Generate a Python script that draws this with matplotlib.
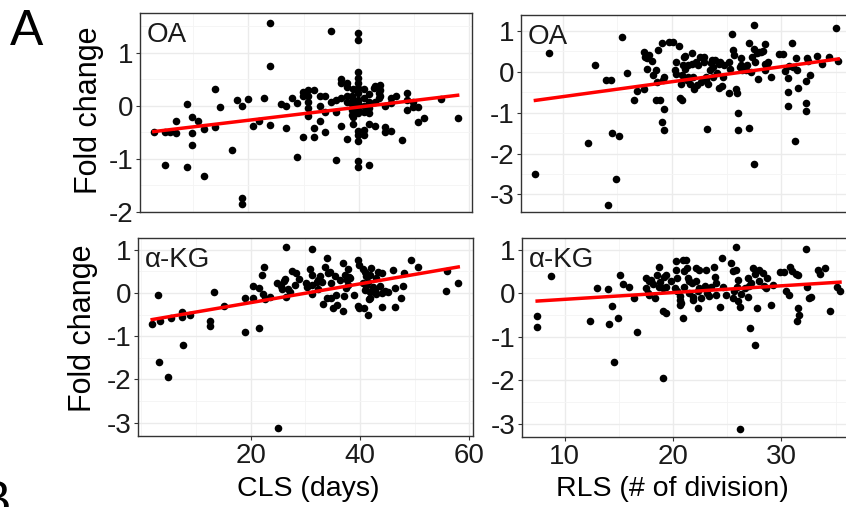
import numpy as np
import matplotlib
matplotlib.use("Agg")
import matplotlib.pyplot as plt
from matplotlib.ticker import MultipleLocator, FixedLocator

plt.rcParams['font.family'] = ['Liberation Sans', 'DejaVu Sans']
plt.rcParams['axes.unicode_minus'] = False

# ── data: (x, fold change) ──────────────────────────────────────
oa_cls = np.array([
    (2.9,-0.50),(5.0,-1.11),(5.0,-0.50),(5.9,-0.50),(7.0,-0.51),(7.0,-0.28),(8.9,0.04),(8.9,-1.16),
    (9.9,-0.21),(9.9,-0.52),(9.9,-0.73),(10.9,-0.29),(11.9,-0.43),(11.9,-1.33),(13.9,0.32),(13.9,-0.39),
    (14.9,-0.03),(17.0,-0.84),(17.9,0.11),(18.9,0.0),(18.9,-1.74),(18.9,-1.84),(19.9,0.13),(20.9,-0.38),
    (21.9,-0.28),(22.9,0.14),(23.9,1.57),(23.9,0.75),(23.9,-0.36),(25.9,0.03),(26.9,0.0),(26.9,-0.42),
    (27.9,0.15),(28.9,0.06),(28.9,-0.97),(29.9,0.26),(29.9,0.18),(29.9,-0.58),(30.9,0.29),(30.9,0.18),
    (30.9,0.08),(30.9,-0.04),(30.9,-0.19),(31.9,0.29),(31.9,-0.41),(31.9,-0.59),(32.9,0.18),(32.9,0.0),
    (32.9,-0.28),(33.9,0.18),(33.9,-0.11),(33.9,-0.50),(34.9,1.42),(34.9,0.08),(35.9,0.11),(35.9,-0.11),
    (35.9,-1.02),(36.8,0.50),(36.8,0.43),(36.8,0.14),(36.8,-0.38),(37.9,0.44),(37.9,0.18),(37.9,0.08),
    (37.9,-0.62),(38.9,0.31),(38.9,0.11),(38.9,-0.04),(38.9,-0.21),(38.9,-0.34),(39.9,1.37),(39.9,1.25),
    (39.9,0.63),(39.9,0.52),(39.9,0.43),(39.9,0.24),(39.9,0.05),(39.9,-0.08),(39.9,-0.14),(39.9,-0.47),
    (39.9,-0.66),(39.9,-1.04),(39.9,-1.16),(40.9,0.31),(40.9,-0.01),(40.9,-0.45),(40.9,-0.55),(41.9,0.23),
    (41.9,-0.04),(41.9,-0.34),(41.9,-1.12),(42.9,0.38),(42.9,0.08),(42.9,-0.38),(43.9,0.40),(43.9,0.30),
    (43.9,0.18),(44.8,-0.01),(44.8,-0.39),(44.8,-0.50),(45.9,0.14),(45.9,0.05),(45.9,-0.47),(46.8,0.19),
    (47.9,-0.65),(48.8,0.25),(48.8,-0.08),(49.9,0.08),(49.9,-0.03),(50.8,-0.03),(50.8,-0.31),(51.9,-0.23),
    (54.8,0.13),(57.9,-0.23),(37.9,0.36),(38.8,0.18),(38.8,0.03),(38.8,-0.08),(38.8,-0.17),(39.9,0.33),
    (39.9,0.11),(39.9,-0.55),(40.9,0.14),(40.9,-0.11),(41.8,0.08),(41.8,-0.14),(42.7,0.33),(43.6,0.24),
    (43.6,0.14),(48.8,0.11),
])

oa_rls = np.array([
    (7.47,-2.50),(8.69,0.45),(12.3,-1.73),(12.96,0.16),(13.97,-0.20),(14.4,-0.20),(14.1,-3.27),
    (14.5,-1.50),(14.9,-2.62),(15.16,-1.58),(15.4,0.86),(15.9,-0.02),(16.5,-0.70),(16.75,-0.48),
    (17.4,-0.41),(17.45,0.49),(17.5,0.37),(17.9,0.41),(17.75,0.08),(18.15,0.27),(18.3,-0.08),(18.5,-0.70),
    (18.55,0.04),(18.7,0.53),(18.86,-0.70),(18.6,-0.25),(19.07,0.70),(19.07,-1.23),(19.2,-0.20),
    (19.3,-0.90),(19.3,-1.42),(19.3,-0.12),(19.7,0.74),(20.1,0.74),(20.3,0.04),(20.35,0.25),(20.4,-0.06),
    (20.6,0.63),(20.7,-0.63),(20.9,-0.68),(20.8,-0.29),(20.9,-0.08),(21.05,0.16),(21.1,0.37),(21.35,-0.20),
    (21.45,0.16),(21.65,-0.29),(21.8,0.45),(21.9,-0.12),(22.06,-0.41),(22.2,0.25),(22.3,-0.33),(22.4,0.16),
    (22.7,-0.25),(22.9,0.37),(22.98,0.25),(23.2,-1.39),(23.3,-0.29),(23.5,0.04),(23.6,0.22),(23.8,-0.12),
    (23.95,0.29),(24.1,-0.04),(24.35,-0.39),(24.4,0.25),(24.6,-0.35),(24.8,0.16),(25.2,-0.53),(25.3,0.08),
    (25.5,0.93),(25.6,0.53),(25.7,0.41),(25.85,-0.41),(25.95,-0.53),(26.06,-1.01),(26.06,-1.43),(26.2,0.12),
    (26.35,0.35),(26.8,0.04),(26.9,0.16),(27.1,-1.38),(27.1,0.71),(27.5,1.15),(27.5,-2.25),(27.25,0.0),
    (27.5,0.57),(27.6,0.25),(27.9,-0.18),(28.0,0.49),(28.3,0.52),(28.5,0.68),(28.5,0.20),(28.5,0.04),
    (28.8,0.23),(29.1,-0.12),(29.8,0.43),(30.15,0.43),(30.35,0.02),(30.65,-0.49),(30.65,-0.84),(30.65,-0.14),
    (30.75,0.14),(30.97,0.71),(31.3,-1.70),(31.4,0.35),(31.45,0.04),(31.6,-0.39),(32.3,-0.22),(32.3,-0.76),
    (32.3,-0.96),(32.4,0.33),(32.5,0.27),(32.65,-0.08),(33.3,0.39),(33.8,0.20),(34.4,0.37),(35.0,1.07),
    (35.25,0.26),(17.7,0.33),(21.2,0.39),(21.2,0.08),(21.5,-0.12),(21.8,0.20),(22.6,0.37),(23.1,-0.12),
    (23.1,-0.20),(23.65,0.29),(23.8,0.12),(24.3,0.20),(24.7,-0.12),(25.2,0.25),(26.3,0.16),(26.4,0.04),
    (27.3,0.37),(27.8,0.45),(28.2,0.49),(28.7,0.20),(31.1,0.12),
])

akg_cls = np.array([
    (2.0,-0.72),(3.0,-0.04),(3.4,-0.66),(3.3,-1.60),(4.9,-1.95),(5.4,-0.57),(7.4,-0.56),(7.5,-0.44),
    (7.7,-1.20),(9.0,-0.52),(12.6,-0.65),(12.6,-0.77),(13.3,0.02),(15.2,-0.31),(19.0,-0.90),(19.0,-0.11),
    (20.4,0.16),(20.4,-0.11),(21.5,-0.81),(21.6,0.12),(22.0,0.41),(22.2,-0.02),(22.4,0.60),(22.6,-0.13),
    (23.5,-0.09),(24.8,0.24),(25.1,-3.12),(25.7,0.08),(26.3,0.32),(26.4,1.06),(26.4,-0.09),(26.9,0.10),
    (27.6,0.51),(28.1,0.18),(28.4,0.46),(28.8,0.32),(30.4,0.14),(30.9,0.55),(31.3,1.01),(31.3,-0.02),
    (32.1,0.25),(32.4,0.10),(32.7,0.39),(33.3,-0.25),(33.6,0.60),(33.9,0.81),(33.9,-0.12),(34.5,0.49),
    (35.0,-0.35),(35.4,0.39),(35.7,-0.05),(35.9,-0.27),(36.3,0.29),(36.95,0.70),(36.95,-0.42),(37.1,-0.08),
    (37.4,0.12),(37.9,0.56),(38.0,0.37),(38.9,-0.04),(39.6,0.77),(39.6,-0.31),(39.9,0.64),(39.9,-0.36),
    (40.6,0.56),(40.6,0.24),(40.8,-0.35),(40.9,0.06),(41.5,-0.50),(41.7,-0.15),(41.8,0.41),(42.1,0.58),
    (42.4,0.14),(43.0,-0.02),(43.35,0.49),(43.96,0.45),(43.96,-0.32),(44.6,0.05),(45.2,0.02),(46.1,0.54),
    (46.5,0.12),(46.5,-0.32),(47.5,-0.12),(47.9,0.15),(48.0,0.45),(49.3,0.76),(50.7,0.59),(55.7,0.04),
    (56.0,0.51),(58.0,0.22),(25.5,0.15),(26.1,0.28),(27.2,0.03),(30.2,0.22),(31.2,0.19),(31.3,0.42),
    (32.4,0.30),(33.0,0.26),(34.2,0.45),(34.8,0.22),(34.8,-0.12),(37.3,0.42),(37.6,0.30),(37.9,0.19),
    (38.2,0.34),(40.9,0.49),(41.2,0.38),(41.2,0.15),(41.5,0.26),(41.8,0.03),(41.8,-0.12),(42.7,0.07),
    (43.0,0.34),(43.7,0.15),(44.0,0.0),
])

akg_rls = np.array([
    (7.45,-0.52),(7.45,-0.78),(8.7,0.40),(12.3,-0.65),(13.0,0.11),(14.0,0.09),(14.1,-0.71),(14.4,-0.29),
    (14.5,-1.59),(14.9,-0.56),(15.1,0.41),(15.4,0.21),(15.9,0.14),(16.4,-0.10),(16.7,-0.90),(17.45,0.34),
    (17.5,0.11),(17.8,-0.04),(18.0,0.31),(18.3,-0.11),(18.5,0.41),(18.7,0.61),(18.7,0.15),(18.8,0.25),
    (19.05,-0.41),(19.1,-1.95),(19.3,-0.46),(19.35,0.15),(19.35,0.41),(19.8,0.27),(20.15,0.11),(20.3,0.73),
    (20.3,0.54),(20.4,0.04),(20.6,-0.15),(20.6,-0.27),(20.9,-0.56),(20.9,0.77),(21.2,0.77),(21.0,0.15),
    (21.25,0.57),(21.35,0.34),(21.5,0.0),(21.7,0.23),(21.8,-0.08),(22.1,0.57),(22.3,-0.34),(22.4,0.11),
    (22.6,-0.11),(23.0,0.54),(23.1,0.0),(23.5,0.15),(23.8,0.61),(23.9,0.38),(24.0,-0.04),(24.3,-0.31),
    (24.5,0.80),(24.6,0.15),(24.9,-0.04),(25.3,0.69),(25.5,-0.11),(25.8,1.07),(25.8,0.54),(25.9,0.15),
    (26.0,0.31),(26.2,-0.31),(26.2,-3.12),(26.6,0.11),(26.9,-0.08),(27.1,-0.80),(27.2,0.23),(27.4,0.57),
    (27.55,-1.20),(27.7,-0.33),(27.9,0.54),(27.95,0.27),(28.6,0.11),(28.7,0.36),(29.0,-0.27),(29.2,0.19),
    (29.9,0.48),(30.2,0.48),(30.4,0.04),(30.7,-0.04),(30.8,0.61),(31.0,0.50),(31.3,0.44),(31.5,0.41),
    (31.4,-0.65),(31.5,-0.34),(31.6,-0.50),(32.3,1.02),(32.4,0.15),(32.5,-0.11),(32.7,-0.08),(33.4,0.54),
    (33.6,0.44),(34.0,0.57),(34.5,-0.41),(35.15,0.15),(35.4,0.04),(17.7,0.01),(17.8,0.28),(18.1,0.20),
    (19.05,0.12),(19.2,0.37),(20.4,0.35),(20.6,-0.07),(20.7,-0.22),(21.0,0.51),(21.5,0.28),(21.8,-0.15),
    (22.1,0.28),(22.3,0.05),(22.4,0.54),(22.9,0.16),(23.3,-0.07),(24.0,0.24),(25.5,0.51),(25.6,0.05),
    (26.0,-0.18),(26.3,-0.03),(26.9,0.35),(27.0,0.16),(27.6,0.43),(28.25,0.47),(28.4,0.16),
])

panel_labels = ['OA', 'OA', 'α-KG', 'α-KG']
cls_ticks = [20, 40, 60]
rls_ticks = [10, 20, 30]
x_titles = ['CLS (days)', 'RLS (# of division)']
y_title = 'Fold change'

# ── layout (pixels of the 846x507 canvas) ───────────────────────
W, H = 846, 507
fig = plt.figure(figsize=(W / 100, H / 100), dpi=100)

def box(l, t, r, b):
    return [l / W, 1 - b / H, (r - l) / W, (b - t) / H]

panels = [
    # data, label, box, xlim, ylim, x ticks, bottom row
    (oa_cls,  panel_labels[0], box(140, 13, 472, 212), (0.4, 60.5),  (-2.0, 1.75),  cls_ticks, False),
    (oa_rls,  panel_labels[1], box(521, 15, 853, 212), (6.15, 36.6), (-3.43, 1.39), rls_ticks, False),
    (akg_cls, panel_labels[2], box(138, 238, 473, 436), (-0.6, 60.7), (-3.31, 1.27), cls_ticks, True),
    (akg_rls, panel_labels[3], box(522, 238, 853, 437), (6.05, 36.6), (-3.31, 1.27), rls_ticks, True),
]

PX = 0.72  # points per pixel at dpi 100

for data, label, pos, xlim, ylim, xticks, bottom in panels:
    ax = fig.add_axes(pos)
    x, y = data[:, 0], data[:, 1]
    ax.scatter(x, y, s=30, color='black', linewidths=0, zorder=3)

    fit = np.polyfit(x, y, 1)
    xs = np.array([x.min(), x.max()])
    ax.plot(xs, np.polyval(fit, xs), color='#ff0000', lw=2.5, zorder=4)

    ax.set_xlim(*xlim)
    ax.set_ylim(*ylim)
    step = xticks[1] - xticks[0]
    ax.xaxis.set_major_locator(FixedLocator(xticks))
    ax.xaxis.set_minor_locator(MultipleLocator(step / 2))
    ax.yaxis.set_major_locator(MultipleLocator(1))
    ax.yaxis.set_minor_locator(MultipleLocator(0.5))

    ax.set_axisbelow(True)
    ax.grid(which='major', color='#ebebeb', lw=1.0)
    ax.grid(which='minor', color='#f4f4f4', lw=0.6)
    for sp in ax.spines.values():
        sp.set_color('#333333')
        sp.set_linewidth(1.0)

    ax.tick_params(which='major', length=3, width=0.8, color='#333333',
                   labelsize=20, pad=2, labelcolor='#1a1a1a')
    ax.tick_params(which='minor', length=0)
    if not bottom:
        ax.tick_params(axis='x', which='both', length=0, labelbottom=False)

    ax.annotate(label, xy=(0, 1), xycoords='axes fraction',
                xytext=(7 * PX, -29 * PX), textcoords='offset points',
                ha='left', va='baseline', fontsize=20, color='#1a1a1a')

# ── figure texts ────────────────────────────────────────────────
fig.text(10 / W, 1 - 45 / H, 'A', fontsize=36, va='baseline')
fig.text(-22 / W, 1 - 516 / H, 'B', fontsize=36, va='baseline')

fig.text(89 / W, 1 - 110 / H, y_title, rotation=90, fontsize=22, ha='center', va='center')
fig.text(83 / W, 1 - 328 / H, y_title, rotation=90, fontsize=22, ha='center', va='center')
fig.text(308 / W, 1 - 489 / H, x_titles[0], fontsize=20.5, ha='center', va='center')
fig.text(672 / W, 1 - 489 / H, x_titles[1], fontsize=20.5, ha='center', va='center')

fig.savefig('out.png', dpi=100)
